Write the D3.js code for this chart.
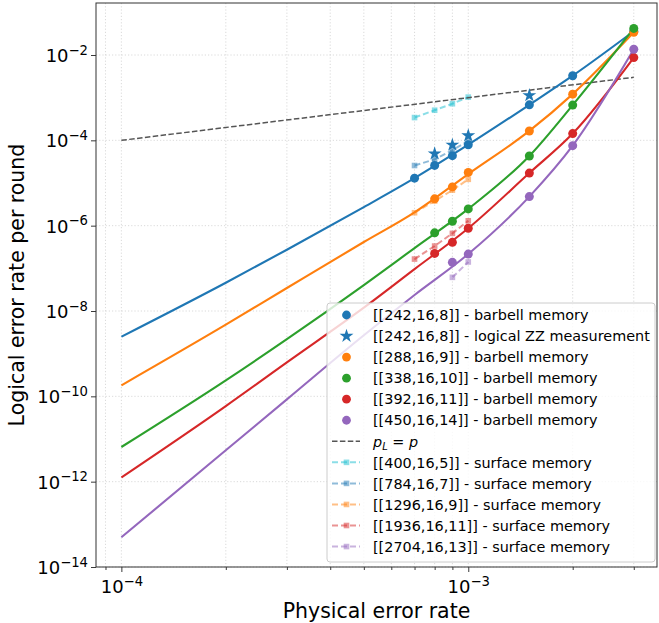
<!DOCTYPE html>
<html>
<head>
<meta charset="utf-8">
<script src="https://cdn.jsdelivr.net/npm/d3@7"></script>
<style>
  body { margin: 0; background: #fff; }
  svg text { font-family: "DejaVu Sans", sans-serif; fill: #000; }
</style>
</head>
<body>
<div id="chart"></div>
<script>
// physical error rates of the simulated points
const physP = [7e-4, 8e-4, 9e-4, 1e-3, 1.5e-3, 2e-3, 3e-3];

// barbell memory points (null = no point)
const bb242 = [1.30e-5, 2.58e-5, 4.37e-5, 7.9e-5, 6.8e-4, 3.27e-3, 3.6e-2];
const bb288 = [null, 4.25e-6, 8.1e-6, 1.77e-5, 1.66e-4, 1.21e-3, 3.4e-2];
const bb338 = [null, 6.8e-7, 1.27e-6, 2.47e-6, 4.3e-5, 6.7e-4, 4.2e-2];
const bb392 = [null, 2.24e-7, 4.07e-7, 8.7e-7, 1.71e-5, 1.44e-4, 8.7e-3];
const bb450 = [null, null, 1.38e-7, 2.16e-7, 4.8e-6, 7.5e-5, 1.36e-2];

// logical ZZ measurement
const zz242 = [null, 4.87e-5, 7.8e-5, 1.29e-4, 1.13e-3, null, null];

// surface memory (at p = 7e-4 .. 1e-3)
const sf400 = [3.42e-4, 5.08e-4, 7.2e-4, 1.03e-3];
const sf784 = [2.57e-5, 3.59e-5, 5.9e-5, 9.6e-5];
const sf1296 = [2.01e-6, 3.78e-6, 6.8e-6, 1.22e-5];
const sf1936 = [1.65e-7, 3.33e-7, 6.6e-7, 1.3e-6];
const sf2704 = [null, null, 6.15e-8, 1.41e-7];

// fitted curves
const fitP = [1e-4, 2e-4, 3e-4, 5e-4, 7e-4, 1e-3, 1.5e-3, 2e-3, 3e-3];
const fit242 = [2.5e-9, 4.6e-8, 2.73e-7, 2.73e-6, 1.30e-5, 7.9e-5, 6.8e-4, 3.27e-3, 3.6e-2];
const fit288 = [1.81e-10, 4.77e-9, 3.46e-8, 4.14e-7, 2.05e-6, 1.62e-5, 1.66e-4, 1.21e-3, 3.4e-2];
const fit338 = [6.49e-12, 2.37e-10, 2.19e-9, 4.06e-8, 2.99e-7, 2.47e-6, 4.3e-5, 6.7e-4, 4.2e-2];
const fit392 = [1.26e-12, 5.93e-11, 6.27e-10, 1.2e-8, 9.6e-8, 8.7e-7, 1.71e-5, 1.44e-4, 8.7e-3];
const fit450 = [4.97e-14, 5.43e-12, 8.5e-11, 2.7e-9, 2.37e-8, 2.16e-7, 4.8e-6, 7.5e-5, 1.36e-2];

const diagP = [1e-4, 3e-3];

(function () {
  const barbell = [
    {name: "[[242,16,8]] - barbell memory", color: "#1f77b4", vals: bb242, fit: fit242},
    {name: "[[288,16,9]] - barbell memory", color: "#ff7f0e", vals: bb288, fit: fit288},
    {name: "[[338,16,10]] - barbell memory", color: "#2ca02c", vals: bb338, fit: fit338},
    {name: "[[392,16,11]] - barbell memory", color: "#d62728", vals: bb392, fit: fit392},
    {name: "[[450,16,14]] - barbell memory", color: "#9467bd", vals: bb450, fit: fit450}
  ];
  const surface = [
    {name: "[[400,16,5]] - surface memory", color: "#17becf", vals: sf400},
    {name: "[[784,16,7]] - surface memory", color: "#1f77b4", vals: sf784},
    {name: "[[1296,16,9]] - surface memory", color: "#ff7f0e", vals: sf1296},
    {name: "[[1936,16,11]] - surface memory", color: "#d62728", vals: sf1936},
    {name: "[[2704,16,13]] - surface memory", color: "#9467bd", vals: sf2704}
  ];

  const width = 659, height = 623;
  const pl = 96, pr = 657, pt = 3, pb = 567;

  const svg = d3.select("#chart").append("svg")
    .attr("width", width).attr("height", height);

  const x = d3.scaleLog().domain([8.45e-5, 3.5e-3]).range([pl, pr]);
  const y = d3.scaleLog().domain([1e-14, 0.1655]).range([pb, pt]);

  const yTicks = d3.range(-14, -1, 2).map(e => Math.pow(10, e));
  const xAll = x.ticks();
  const isMajor = v => Math.abs(Math.log10(v) - Math.round(Math.log10(v))) < 1e-9;
  const xMajor = xAll.filter(isMajor);
  const xMinor = xAll.filter(v => !isMajor(v));

  // grid
  const grid = svg.append("g").attr("stroke", "#d0d0d0").attr("stroke-width", 0.8)
    .attr("stroke-dasharray", "1.2,2");
  grid.selectAll(".gx").data(xAll).enter().append("line")
    .attr("x1", d => x(d)).attr("x2", d => x(d)).attr("y1", pt).attr("y2", pb);
  grid.selectAll(".gy").data(yTicks).enter().append("line")
    .attr("y1", d => y(d)).attr("y2", d => y(d)).attr("x1", pl).attr("x2", pr);

  const plot = svg.append("g");

  // surface memory (dashed, faded)
  surface.forEach(s => {
    const pts = physP.slice(0, 4).map((p, i) => [p, s.vals[i]]).filter(d => d[1] != null);
    plot.append("path")
      .attr("fill", "none").attr("stroke", s.color).attr("stroke-opacity", 0.5)
      .attr("stroke-width", 2).attr("stroke-dasharray", "6,3")
      .attr("d", d3.line().x(d => x(d[0])).y(d => y(d[1]))(pts));
    plot.selectAll(null).data(pts).enter().append("rect")
      .attr("x", d => x(d[0]) - 2.8).attr("y", d => y(d[1]) - 2.8)
      .attr("width", 5.6).attr("height", 5.6)
      .attr("fill", s.color).attr("fill-opacity", 0.5);
  });

  // p_L = p
  plot.append("line")
    .attr("x1", x(diagP[0])).attr("y1", y(diagP[0]))
    .attr("x2", x(diagP[1])).attr("y2", y(diagP[1]))
    .attr("stroke", "#555").attr("stroke-width", 1.5).attr("stroke-dasharray", "5.5,2.4");

  // barbell fits + points
  const fitLine = d3.line().x(d => x(d[0])).y(d => y(d[1])).curve(d3.curveMonotoneX);
  barbell.forEach(s => {
    plot.append("path")
      .attr("fill", "none").attr("stroke", s.color).attr("stroke-width", 2.1)
      .attr("d", fitLine(fitP.map((p, i) => [p, s.fit[i]])));
  });
  barbell.forEach(s => {
    const pts = physP.map((p, i) => [p, s.vals[i]]).filter(d => d[1] != null);
    plot.selectAll(null).data(pts).enter().append("circle")
      .attr("cx", d => x(d[0])).attr("cy", d => y(d[1])).attr("r", 4.5)
      .attr("fill", s.color);
  });

  // logical ZZ stars
  const star = d3.symbol().type(d3.symbolStar).size(60);
  plot.selectAll(".zz")
    .data(physP.map((p, i) => [p, zz242[i]]).filter(d => d[1] != null))
    .enter().append("path")
    .attr("transform", d => `translate(${x(d[0])},${y(d[1])})`)
    .attr("d", star()).attr("fill", "#1f77b4");

  // axes
  const axisG = svg.append("g");
  const xAxis = axisG.append("g").attr("transform", `translate(0,${pb})`)
    .call(d3.axisBottom(x).tickValues(xMajor).tickSize(5).tickFormat(""));
  axisG.append("g").attr("transform", `translate(0,${pb})`)
    .call(d3.axisBottom(x).tickValues(xMinor).tickSize(3).tickFormat(""));
  const yAxis = axisG.append("g").attr("transform", `translate(${pl},0)`)
    .call(d3.axisLeft(y).tickValues(yTicks).tickSize(5).tickFormat(""));
  axisG.selectAll(".domain").remove();
  axisG.selectAll(".tick line").attr("stroke", "#222").attr("stroke-width", 0.9);
  axisG.selectAll(".tick text").remove();

  function powLabel(sel, d) {
    const e = Math.round(Math.log10(d));
    sel.append("tspan").text("10");
    sel.append("tspan").attr("dy", -7.5).attr("font-size", 13.2).text("\u2212" + Math.abs(e));
  }
  xAxis.selectAll(".tick").append("text")
    .attr("y", 26).attr("text-anchor", "middle").attr("font-size", 18)
    .each(function (d) { powLabel(d3.select(this), d); });
  yAxis.selectAll(".tick").append("text")
    .attr("x", -8).attr("dy", 6.6).attr("text-anchor", "end").attr("font-size", 18)
    .each(function (d) { powLabel(d3.select(this), d); });

  // frame
  svg.append("rect").attr("x", pl).attr("y", pt)
    .attr("width", pr - pl).attr("height", pb - pt)
    .attr("fill", "none").attr("stroke", "#333").attr("stroke-width", 1);

  // axis titles
  svg.append("text").attr("x", (pl + pr) / 2).attr("y", 618)
    .attr("text-anchor", "middle").attr("font-size", 20.5).text("Physical error rate");
  svg.append("text").attr("transform", `translate(24,${(pt + pb) / 2}) rotate(-90)`)
    .attr("text-anchor", "middle").attr("font-size", 20.5).text("Logical error rate per round");

  // legend
  const lg = svg.append("g");
  lg.append("rect").attr("x", 327).attr("y", 303).attr("width", 328).attr("height", 259)
    .attr("rx", 3).attr("fill", "#fff").attr("fill-opacity", 0.8)
    .attr("stroke", "#ccc").attr("stroke-width", 1);

  const rows = [
    {type: "circle", color: barbell[0].color, name: barbell[0].name},
    {type: "star", color: "#1f77b4", name: "[[242,16,8]] - logical ZZ measurement"},
    ...barbell.slice(1).map(s => ({type: "circle", color: s.color, name: s.name})),
    {type: "diag", color: "#555", name: ""},
    ...surface.map(s => ({type: "surface", color: s.color, name: s.name}))
  ];
  const rowY = i => 315 + i * 21.05;
  rows.forEach((r, i) => {
    const cy = rowY(i);
    if (r.type === "circle") {
      lg.append("circle").attr("cx", 346.5).attr("cy", cy).attr("r", 4.4).attr("fill", r.color);
    } else if (r.type === "star") {
      lg.append("path").attr("transform", `translate(346.5,${cy})`).attr("d", star()).attr("fill", r.color);
    } else if (r.type === "diag") {
      lg.append("line").attr("x1", 332).attr("x2", 360).attr("y1", cy).attr("y2", cy)
        .attr("stroke", r.color).attr("stroke-width", 1.5).attr("stroke-dasharray", "5.5,2.4");
    } else {
      lg.append("line").attr("x1", 332).attr("x2", 360).attr("y1", cy).attr("y2", cy)
        .attr("stroke", r.color).attr("stroke-opacity", 0.5).attr("stroke-width", 2)
        .attr("stroke-dasharray", "6,3");
      lg.append("rect").attr("x", 346.5 - 2.8).attr("y", cy - 2.8).attr("width", 5.6).attr("height", 5.6)
        .attr("fill", r.color).attr("fill-opacity", 0.5);
    }
    const t = lg.append("text").attr("x", 373).attr("y", cy + 5.2).attr("font-size", 14.4);
    if (r.type === "diag") {
      t.append("tspan").attr("font-style", "italic").text("p");
      t.append("tspan").attr("font-style", "italic").attr("font-size", 10).attr("dy", 3).text("L");
      t.append("tspan").attr("dy", -3).text(" = ");
      t.append("tspan").attr("font-style", "italic").text("p");
    } else {
      t.text(r.name);
    }
  });
})();
</script>
</body>
</html>
